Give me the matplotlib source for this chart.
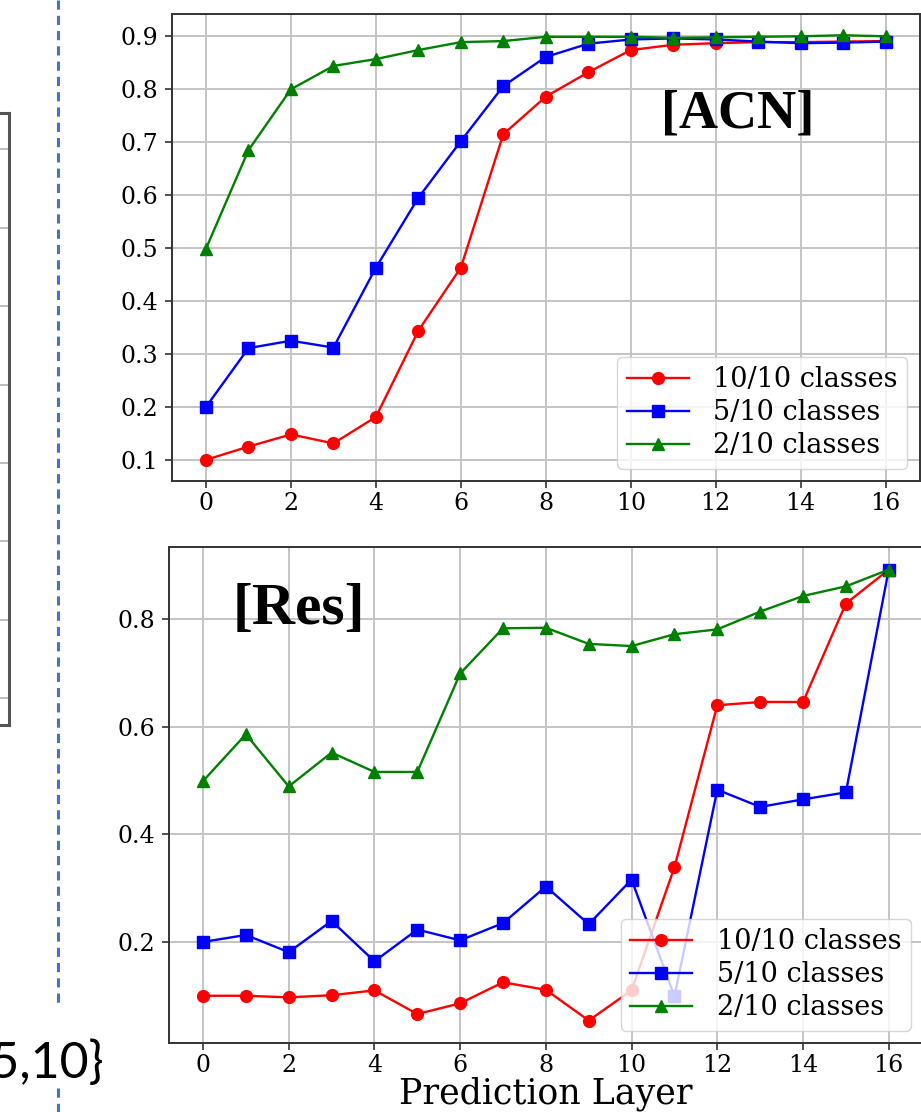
import numpy as np
import matplotlib.pyplot as plt
from matplotlib.lines import Line2D

#%% DATA

layers = list(range(17))
labels = ['10/10 classes', '5/10 classes', '2/10 classes']

# [ACN] panel
acn_10 = [0.100, 0.125, 0.148, 0.131, 0.181, 0.344, 0.463, 0.715, 0.786, 0.832,
          0.874, 0.884, 0.887, 0.889, 0.889, 0.890, 0.891]
acn_5 = [0.200, 0.311, 0.325, 0.312, 0.463, 0.595, 0.702, 0.806, 0.861, 0.886,
         0.894, 0.896, 0.894, 0.890, 0.887, 0.888, 0.890]
acn_2 = [0.499, 0.685, 0.800, 0.844, 0.857, 0.874, 0.889, 0.891, 0.899, 0.899,
         0.899, 0.897, 0.898, 0.899, 0.900, 0.902, 0.900]

# [Res] panel
res_10 = [0.100, 0.100, 0.097, 0.101, 0.110, 0.066, 0.086, 0.125, 0.111, 0.054,
          0.110, 0.339, 0.640, 0.646, 0.646, 0.829, 0.892]
res_5 = [0.200, 0.213, 0.181, 0.239, 0.164, 0.223, 0.203, 0.235, 0.303, 0.233,
         0.316, 0.099, 0.483, 0.451, 0.465, 0.478, 0.892]
res_2 = [0.499, 0.586, 0.489, 0.552, 0.516, 0.516, 0.699, 0.783, 0.784, 0.754,
         0.750, 0.772, 0.781, 0.814, 0.843, 0.861, 0.892]

acn_ticks = [0.1, 0.2, 0.3, 0.4, 0.5, 0.6, 0.7, 0.8, 0.9]
res_ticks = [0.2, 0.4, 0.6, 0.8]

#%% FIGURE

plt.rcParams['font.family'] = 'DejaVu Serif'
fig = plt.figure(figsize=(9.21, 11.12), dpi=100)

styles = [dict(color='r', marker='o'), dict(color='b', marker='s'), dict(color='g', marker='^')]


def panel(ax, series, yticks, tag, tag_pos, tag_size):
    for s, lab, st in zip(series, labels, styles):
        ax.plot(layers, s, label=lab, lw=1.7, ms=8.5, **st)
    ax.set_xticks(range(0, 17, 2))
    ax.set_yticks(yticks)
    ax.grid(True, color='#c4c4c4', lw=1.4)
    ax.tick_params(labelsize=17, length=5, width=1.2, pad=5, color='#333333')
    ax.tick_params(axis='x', pad=3)
    for sp in ax.spines.values():
        sp.set_linewidth(1.4)
        sp.set_color('#333333')
    ax.legend(loc='lower right', fontsize=19.5, handlelength=2.3, handletextpad=0.9,
              labelspacing=0.22, borderpad=0.35, borderaxespad=0.45)
    ax.text(tag_pos[0], tag_pos[1], tag, transform=ax.transAxes, ha='center', va='center',
            fontsize=tag_size, fontweight='bold', family='Liberation Serif')


ax1 = fig.add_axes([0.1868, 0.5674, 0.8116, 0.42])
panel(ax1, [acn_10, acn_5, acn_2], acn_ticks, '[ACN]', (0.757, 0.785), 39)

ax2 = fig.add_axes([0.1832, 0.062, 0.819, 0.446])
panel(ax2, [res_10, res_5, res_2], res_ticks, '[Res]', (0.173, 0.873), 43)
ax2.set_xlabel('Prediction Layer', fontsize=25)
ax2.xaxis.set_label_coords(0.5, -0.068)

#%% LEFT REMNANT OF NEIGHBOUR PANEL

ax0 = fig.add_axes([-0.3, 0.348, 0.3098, 0.55])
ax0.set_ylim(-0.344, 7.46)
ax0.set_yticks(range(8))
ax0.set_xticks([])
ax0.tick_params(left=False, labelleft=False)
ax0.grid(True, axis='y', color='#b8b8b8', lw=1.3)
for sp in ax0.spines.values():
    sp.set_linewidth(2.2)
    sp.set_color('#555555')

# dashed separator
fig.add_artist(Line2D([58 / 921, 58 / 921], [1.0, 1 - 1003 / 1112], color='#4472C4',
                      lw=2.2, ls=(0, (3, 2))))
fig.add_artist(Line2D([58 / 921, 58 / 921], [1 - 1088 / 1112, 0.0], color='#4472C4',
                      lw=2.2, ls=(0, (3, 2))))

fig.text(104 / 921, 1 - 1078 / 1112, '{2,5,10}', ha='right', va='baseline',
         fontsize=36, family='Lato')

fig.savefig('out.png', dpi=100)
